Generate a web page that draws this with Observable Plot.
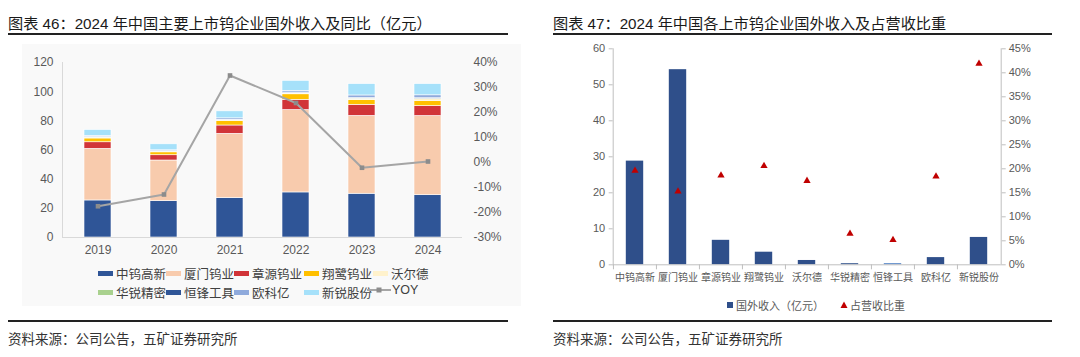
<!DOCTYPE html>
<html><head><meta charset="utf-8">
<script src="https://cdn.jsdelivr.net/npm/d3@7"></script>
<script src="https://cdn.jsdelivr.net/npm/@observablehq/plot@0.6"></script>
<style>
body{margin:0;background:#fff;font-family:"Liberation Sans","Noto Sans CJK SC",sans-serif;}
#wrap{position:relative;width:1080px;height:357px;overflow:hidden;background:#fff;}
.abs{position:absolute;}
.title{font-size:15.2px;color:#1a1a1a;white-space:nowrap;top:11px;}
.rule{height:2px;background:#222;}
.src{font-size:13.5px;color:#333;white-space:nowrap;top:328px;}
.lg{font-size:12.5px;color:#404040;white-space:nowrap;display:flex;align-items:center;}
.sw{display:inline-block;width:15px;height:5px;margin-right:3px;}
.lg2{font-size:11px;color:#595959;white-space:nowrap;display:flex;align-items:center;}
</style></head>
<body><div id="wrap">
<div class="abs" style="left:22px;top:44px;width:499px;height:262px;background:#F9F9F9"></div>
<div class="abs title" style="left:8px">图表 46：2024 年中国主要上市钨企业国外收入及同比（亿元）</div>
<div class="abs rule" style="left:8px;top:33px;width:500px"></div>
<div class="abs title" style="left:553px">图表 47：2024 年中国各上市钨企业国外收入及占营收比重</div>
<div class="abs rule" style="left:553px;top:33px;width:499px"></div>
<div class="abs rule" style="left:8px;top:320px;width:500px"></div>
<div class="abs rule" style="left:553px;top:320px;width:499px"></div>
<div class="abs src" style="left:8px">资料来源：公司公告，五矿证券研究所</div>
<div class="abs src" style="left:553px">资料来源：公司公告，五矿证券研究所</div>
<div id="left" class="abs" style="left:0;top:40px"></div>
<div id="right" class="abs" style="left:540px;top:30px"></div>
<div id="legL"></div>
<div id="legR"></div>
</div>
<script>
// ---- Left chart data ----
const years = ["2019","2020","2021","2022","2023","2024"];
const companies = ["中钨高新","厦门钨业","章源钨业","翔鹭钨业","沃尔德","华锐精密","恒锋工具","欧科亿","新锐股份"];
const zhongwu   = [25.4, 24.9, 27.0, 30.9, 30.0, 29.0];
const xiamen    = [35.4, 27.9, 44.1, 56.5, 53.4, 54.3];
const zhangyuan = [4.5, 3.6, 5.7, 7.0, 7.6, 6.8];
const xianglu   = [2.6, 2.0, 3.0, 3.8, 3.2, 3.6];
const woerde    = [0.5, 0.4, 0.4, 0.6, 0.8, 1.2];
const huarui    = [0.2, 0.2, 0.2, 0.3, 0.3, 0.3];
const hengfeng  = [0.3, 0.2, 0.3, 0.3, 0.3, 0.3];
const oukeyi    = [0.8, 0.6, 1.0, 1.2, 1.8, 2.0];
const xinrui    = [4.0, 4.1, 4.8, 6.8, 7.8, 7.7];
const yoy       = [-17.5, -12.8, 34.8, 23.8, -2.1, 0.4];
const leftTicks = [0, 20, 40, 60, 80, 100, 120];
const pctTicksL = [-30, -20, -10, 0, 10, 20, 30, 40];
const colors = ["#2F5597","#F8CBAD","#D13438","#FFC000","#FFF2CC","#A9D18E","#2F5597","#8FAADC","#A6E1FA"];

// ---- Right chart data ----
const firms = companies;
const overseas2024 = [28.8, 54.2, 6.8, 3.5, 1.2, 0.3, 0.3, 2.0, 7.6];
const share2024 = [19.6, 15.3, 18.6, 20.6, 17.5, 6.5, 5.2, 18.4, 41.9];
const barColors = ["#2F4F8A","#2F4F8A","#2F4F8A","#2F4F8A","#2F4F8A","#2F4F8A","#4A7EC4","#2F4F8A","#2F4F8A"];
const rightTicks = [0, 10, 20, 30, 40, 50, 60];
const pctTicksR = [0, 5, 10, 15, 20, 25, 30, 35, 40, 45];

const series = [zhongwu, xiamen, zhangyuan, xianglu, woerde, huarui, hengfeng, oukeyi, xinrui];
const rows = [];
years.forEach((y, i) => companies.forEach((c, j) => rows.push({year: y, company: c, value: series[j][i]})));
const toLeft = v => (v + 30) * 120 / 70;
const fromLeft = d => Math.round(d * 70 / 120 - 30);
const yoyData = years.map((y, i) => ({year: y, v: toLeft(yoy[i])}));
const FONT = '"Liberation Sans","Noto Sans CJK SC",sans-serif';

const left = Plot.plot({
  width: 530, height: 225,
  marginLeft: 62, marginRight: 68, marginTop: 22, marginBottom: 28,
  style: {fontFamily: FONT, fontSize: "12px", color: "#595959", background: "transparent", overflow: "visible"},
  x: {domain: years, paddingInner: 0.595, paddingOuter: 0.2975, label: null},
  y: {domain: [0, 120], label: null},
  color: {domain: companies, range: colors},
  marks: [
    Plot.frame({anchor: "left", stroke: "#D9D9D9"}),
    Plot.barY(rows, {x: "year", y: "value", fill: "company", order: companies, stroke: "#fff", strokeWidth: 0.6}),
    Plot.ruleY([0], {stroke: "#D9D9D9"}),
    Plot.line(yoyData, {x: "year", y: "v", stroke: "#A5A5A5", strokeWidth: 2}),
    Plot.dot(yoyData, {x: "year", y: "v", symbol: "square", r: 2.6, fill: "#8C8C8C"}),
    Plot.axisY({ticks: leftTicks, tickSize: 0, tickPadding: 9, label: null}),
    Plot.axisY({anchor: "right", ticks: pctTicksL.map(toLeft), tickFormat: d => fromLeft(d) + "%", tickSize: 0, tickPadding: 11, label: null}),
    Plot.axisX({tickSize: 0, tickPadding: 8, label: null})
  ]
});
document.getElementById("left").appendChild(left);

const rdata = firms.map((f, i) => ({firm: f, v: overseas2024[i], s: share2024[i] * 60 / 45, c: barColors[i]}));
const bw = 388 / 9;
const right = Plot.plot({
  width: 540, height: 260,
  marginLeft: 72.7, marginRight: 79.3, marginTop: 18.3, marginBottom: 25.7,
  style: {fontFamily: FONT, fontSize: "11px", color: "#595959", background: "transparent", overflow: "visible"},
  x: {domain: firms, padding: 0, label: null},
  y: {domain: [0, 60], label: null},
  marks: [
    Plot.frame({anchor: "left", stroke: "#BFBFBF"}),
    Plot.frame({anchor: "right", stroke: "#BFBFBF"}),
    Plot.barY(rdata, {x: "firm", y: "v", fill: "c", insetLeft: 12.8, insetRight: 12.8}),
    Plot.dot(rdata, {x: "firm", y: "s", symbol: "triangle", r: 2.7, fill: "#C00000"}),
    Plot.ruleY([0], {stroke: "#BFBFBF"}),
    Plot.axisX({ticks: firms, tickSize: 5, tickFormat: () => "", dx: -bw / 2, stroke: "#BFBFBF", label: null}),
    Plot.axisX({tickSize: 0, tickPadding: 9, fontSize: 10, label: null}),
    Plot.axisY({ticks: rightTicks, tickSize: 4, tickPadding: 4, stroke: "#BFBFBF", label: null}),
    Plot.axisY({anchor: "right", ticks: pctTicksR.map(p => p * 60 / 45), tickFormat: d => Math.round(d * 45 / 60) + "%", tickSize: 4, tickPadding: 3.5, stroke: "#BFBFBF", label: null})
  ]
});
document.getElementById("right").appendChild(right);

// ---- HTML legends ----
const legL = document.getElementById("legL");
const lxs = [98, 166, 234, 304, 373];
companies.forEach((c, j) => {
  const d = document.createElement("div");
  d.className = "abs lg";
  d.style.left = lxs[j % 5] + "px";
  d.style.top = (j < 5 ? 264 : 283) + "px";
  d.innerHTML = `<span class="sw" style="background:${colors[j]}"></span>${c}`;
  legL.appendChild(d);
});
const yl = document.createElement("div");
yl.className = "abs lg";
yl.style.left = "367px"; yl.style.top = "283px";
yl.innerHTML = `<svg width="24" height="8" style="margin-right:1px"><line x1="0" y1="4" x2="24" y2="4" stroke="#A5A5A5" stroke-width="2"/><rect x="9.5" y="1.5" width="5" height="5" fill="#8C8C8C"/></svg>YOY`;
legL.appendChild(yl);

const legR = document.getElementById("legR");
const r1 = document.createElement("div");
r1.className = "abs lg2"; r1.style.left = "727px"; r1.style.top = "297px";
r1.innerHTML = `<span style="display:inline-block;width:6px;height:6px;background:#2F4F8A;margin-right:3px"></span>国外收入（亿元）`;
legR.appendChild(r1);
const r2 = document.createElement("div");
r2.className = "abs lg2"; r2.style.left = "840px"; r2.style.top = "297px";
r2.innerHTML = `<svg width="8" height="8" style="margin-right:2px"><path d="M4 0.5 L7.5 7 L0.5 7 Z" fill="#C00000"/></svg>占营收比重`;
legR.appendChild(r2);
</script>
</body></html>
